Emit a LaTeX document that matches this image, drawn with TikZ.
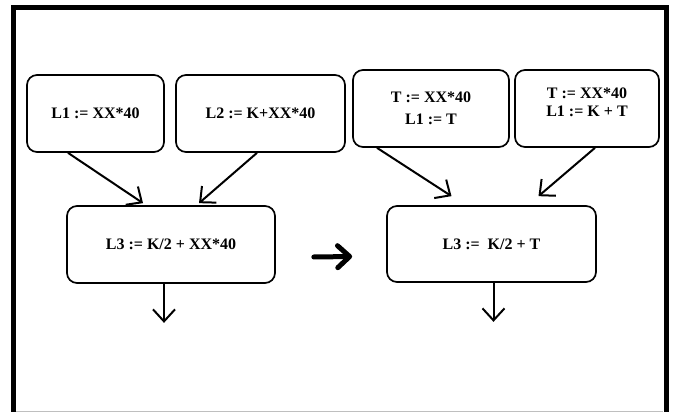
\documentclass[tikz,border=0pt]{standalone}
\usepackage{fontspec}
\setmainfont{Liberation Serif}
\usetikzlibrary{ % tikz packages
    positioning,
    arrows.meta
}
\tikzset{blk/.style={
    draw,
    rounded corners=10pt,
    line width=1.7pt,
    minimum height=77pt,
    inner sep=0pt,
    align=center,
    font=\fontsize{16}{21.5}\selectfont\bfseries
}}
\tikzset{>={Straight Barb[length=12pt,width=22pt]}}

\begin{document}
\begin{tikzpicture}[x=1pt,y=-1pt,on grid,line width=2pt]
        \path[use as bounding box,clip] (0,0) rectangle (673,412);
        % frame, cut off at the bottom
        \draw[line width=5pt] (13.5,430) -- (13.5,7.5) -- (666,7.5) -- (666,430);
        \draw[gray!50,line width=0.8pt] (16,411) -- (663,411);

        \node[blk,minimum width=137pt] (a1) at (95.5,113.5) {L1 := XX*40};
        \node[blk,minimum width=169pt] (a2) [right=165pt of a1] {L2 := K+XX*40};
        \node[blk,minimum width=208pt] (a3) [below right=131pt and 75.5pt of a1] {L3 := K/2 + XX*40};

        \node[blk,minimum width=156pt] (b1) at (431,108.5) {T := XX*40\\L1 := T};
        \node[blk,minimum width=144pt,
            label={[font=\fontsize{16}{18.5}\selectfont\bfseries,align=center,yshift=6pt]center:{T := XX*40\\L1 := K + T}}]
            (b2) [right=156pt of b1] {};
        \node[blk,minimum width=209pt,minimum height=76pt] (b3) [below right=135.5pt and 60.5pt of b1] {L3 :=\ \ K/2 + T};

        \coordinate (outa) at ([xshift=-7pt,yshift=-39pt]a3.south);
        \coordinate (outb) at ([xshift=2pt,yshift=-39pt]b3.south);

        \path[->,line width=2pt]
            ([xshift=-27.5pt]a1.south)
                edge ([xshift=-28pt,yshift=2pt]a3.north)
            ([xshift=-3.5pt]a2.south)
                edge ([xshift=28pt,yshift=2pt]a3.north)
            ([xshift=-54pt]b1.south)
                edge ([xshift=-40pt,yshift=9pt]b3.north)
            ([xshift=8pt]b2.south)
                edge ([xshift=47pt,yshift=9pt]b3.north)
            (outa |- a3.south)
                edge (outa)
            (outb |- b3.south)
                edge (outb);

        \draw[line width=5pt,line cap=round,-{Straight Barb[length=12pt,width=22pt,round]}]
            ([xshift=38pt,yshift=-12.5pt]a3.east) -- ([xshift=-34pt,yshift=-12.5pt]b3.west);
    \end{tikzpicture}
\end{document}
